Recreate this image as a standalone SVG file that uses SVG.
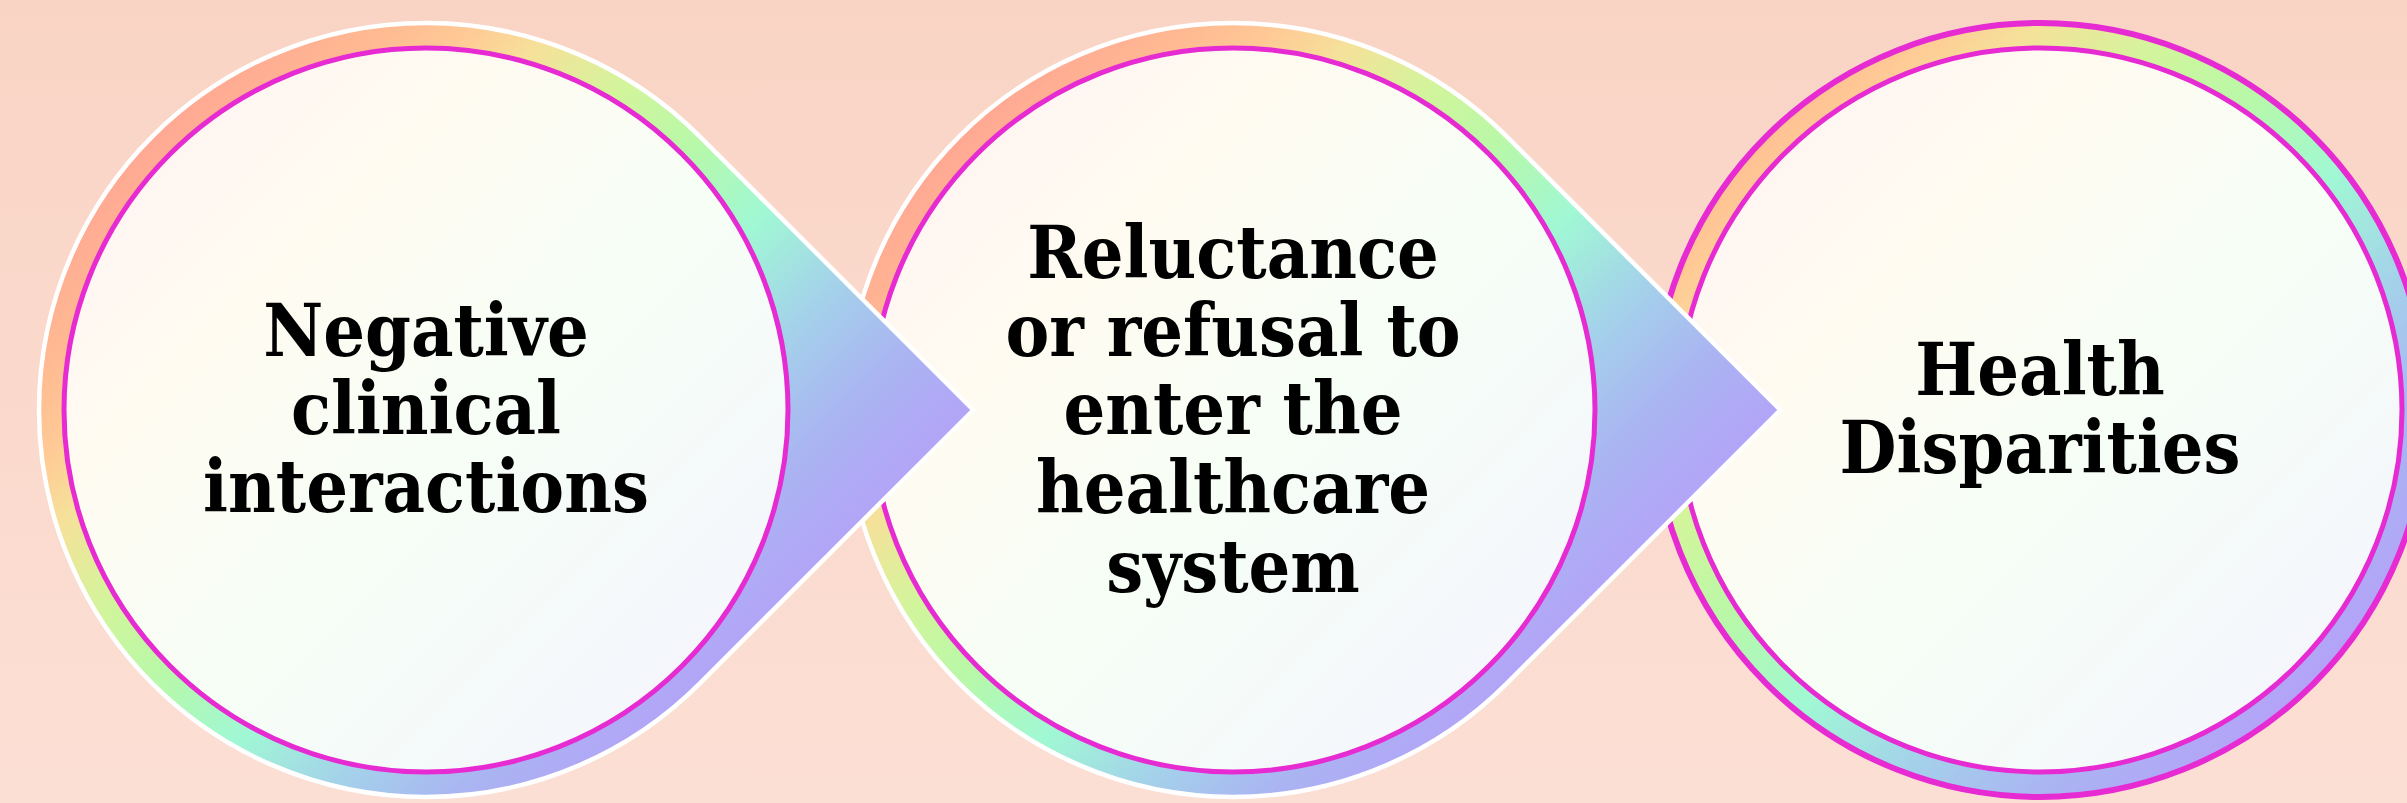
<svg xmlns="http://www.w3.org/2000/svg" width="2407" height="803" viewBox="0 0 2407 803">
  <defs>
    <linearGradient id="bg" x1="0" y1="0" x2="0" y2="1">
      <stop offset="0" stop-color="#F9D4C5"/>
      <stop offset="1" stop-color="#FCDFD4"/>
    </linearGradient>
    <!-- rainbow band, salmon at top-left through to violet at bottom-right -->
    <linearGradient id="rainbow">
      <stop offset="0" stop-color="#FF9A96"/>
      <stop offset="0.10" stop-color="#FFA094"/>
      <stop offset="0.20" stop-color="#FFBA92"/>
      <stop offset="0.25" stop-color="#FFCA96"/>
      <stop offset="0.30" stop-color="#F5E29A"/>
      <stop offset="0.37" stop-color="#D2F59C"/>
      <stop offset="0.44" stop-color="#B8F8A8"/>
      <stop offset="0.52" stop-color="#A0F8D4"/>
      <stop offset="0.60" stop-color="#A4D2EA"/>
      <stop offset="0.68" stop-color="#AAB4F2"/>
      <stop offset="0.76" stop-color="#B4A2F8"/>
      <stop offset="0.85" stop-color="#C096FF"/>
      <stop offset="1" stop-color="#C890FF"/>
    </linearGradient>
    <linearGradient id="rainbow1" href="#rainbow" gradientUnits="userSpaceOnUse" x1="38" y1="22" x2="920" y2="904"/>
    <linearGradient id="rainbow2" href="#rainbow" gradientUnits="userSpaceOnUse" x1="845" y1="22" x2="1727" y2="904"/>
    <linearGradient id="rainbow3" href="#rainbow" gradientUnits="userSpaceOnUse" x1="1440" y1="12" x2="2458" y2="1030"/>
    <linearGradient id="face" x1="0" y1="0" x2="1" y2="1">
      <stop offset="0" stop-color="#FFF1F2"/>
      <stop offset="0.3" stop-color="#FFFBF1"/>
      <stop offset="0.55" stop-color="#F6FEF6"/>
      <stop offset="1" stop-color="#F4F3FF"/>
    </linearGradient>
    <style>
      .drop { stroke: #FFFFFF; stroke-width: 4.5; }
      .ring { stroke: #E62BD2; stroke-width: 6; }
      .face { fill: url(#face); stroke: #E62BD2; stroke-width: 5; }
      .label { font-family: "DejaVu Serif Condensed", "DejaVu Serif", "Liberation Serif", serif; font-stretch: condensed; font-weight: bold; font-size: 73px; fill: #000000; text-anchor: middle; }
    </style>
  </defs>

  <rect x="0" y="0" width="2407" height="803" fill="url(#bg)"/>

  <!-- drawn right to left so each pointer overlaps the next circle -->
  <g id="node-health-disparities">
    <circle class="ring" cx="2040" cy="410" r="387" fill="url(#rainbow3)"/>
    <circle class="face" cx="2040" cy="410" r="362"/>
    <text class="label" x="2040" y="395">Health</text>
    <text class="label" x="2040" y="473">Disparities</text>
  </g>

  <g id="node-reluctance">
    <path class="drop" fill="url(#rainbow2)" d="M1780.3 410 L1506.65 136.35 A387 387 0 1 0 1506.65 683.65 Z"/>
    <circle class="face" cx="1233" cy="410" r="362"/>
    <text class="label" x="1233" y="278">Reluctance</text>
    <text class="label" x="1233" y="356">or refusal to</text>
    <text class="label" x="1233" y="434">enter the</text>
    <text class="label" x="1233" y="513">healthcare</text>
    <text class="label" x="1233" y="592">system</text>
  </g>

  <g id="node-negative-interactions">
    <path class="drop" fill="url(#rainbow1)" d="M973.3 410 L699.65 136.35 A387 387 0 1 0 699.65 683.65 Z"/>
    <circle class="face" cx="426" cy="410" r="362"/>
    <text class="label" x="426" y="356">Negative</text>
    <text class="label" x="426" y="434">clinical</text>
    <text class="label" x="426" y="512">interactions</text>
  </g>
</svg>
